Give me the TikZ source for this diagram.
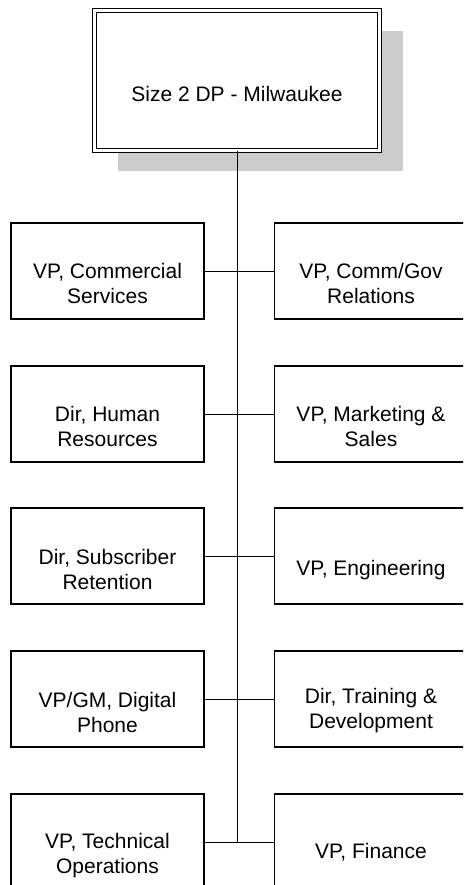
\documentclass[tikz,border=0pt]{standalone}
\usepackage{fontspec}
\setmainfont{Liberation Sans}
\usetikzlibrary{shadows}
\tikzstyle{head}=[rectangle, draw, fill=white, double, double distance=2.5pt, line width=1.4pt, minimum width=285pt, minimum height=140pt, general shadow={fill=black!20, shadow xshift=23pt, shadow yshift=-21pt}]
\tikzstyle{unit}=[rectangle, draw, fill=white, line width=1.4pt, minimum width=193pt, minimum height=96pt]
\tikzstyle{txt}=[align=center, font=\fontsize{21}{25}\selectfont, inner sep=0pt]

\begin{document}
\begin{tikzpicture}[x=1pt, y=-1pt, line width=0.9pt]
                    \useasboundingbox (0,0) rectangle (463,885);
                    \clip (0,0) rectangle (463,885);
                    \node[head] (dp) at (237, 80.5) {};
                    \node[txt] (dp-t) at (237, 93.5) {Size 2 DP - Milwaukee};
                    \coordinate (foot) at (237, 842);
                    \draw (dp) -- (foot);
                    \node[unit] (cs) at (107.5, 271) {};
                    \node[unit] (hr) at (107.5, 414) {};
                    \node[unit] (sr) at (107.5, 556) {};
                    \node[unit] (ph) at (107.5, 699) {};
                    \node[unit] (to) at (107.5, 842) {};
                    \node[unit] (cg) at (371, 271) {};
                    \node[unit] (ms) at (371, 414) {};
                    \node[unit] (en) at (371, 556) {};
                    \node[unit] (td) at (371, 699) {};
                    \node[unit] (fi) at (371, 842) {};
                    \draw (cs) -- (cg);
                    \draw (hr) -- (ms);
                    \draw (sr) -- (en);
                    \draw (ph) -- (td);
                    \draw (to) -- (fi);
                    \node[txt] (cs-t) at (107.5, 283) {VP, Commercial\\Services};
                    \node[txt] (hr-t) at (107.5, 426) {Dir, Human\\Resources};
                    \node[txt] (sr-t) at (107.5, 569) {Dir, Subscriber\\Retention};
                    \node[txt] (ph-t) at (107.5, 712) {VP/GM, Digital\\Phone};
                    \node[txt] (to-t) at (107.5, 856) {VP, Technical\\Operations};
                    \node[txt] (cg-t) at (371, 283) {VP, Comm/Gov\\Relations};
                    \node[txt] (ms-t) at (371, 426) {VP, Marketing \&\\Sales};
                    \node[txt] (en-t) at (371, 570) {VP, Engineering};
                    \node[txt] (td-t) at (371, 711) {Dir, Training \&\\Development};
                    \node[txt] (fi-t) at (371, 852) {VP, Finance};
                \end{tikzpicture}
\end{document}
